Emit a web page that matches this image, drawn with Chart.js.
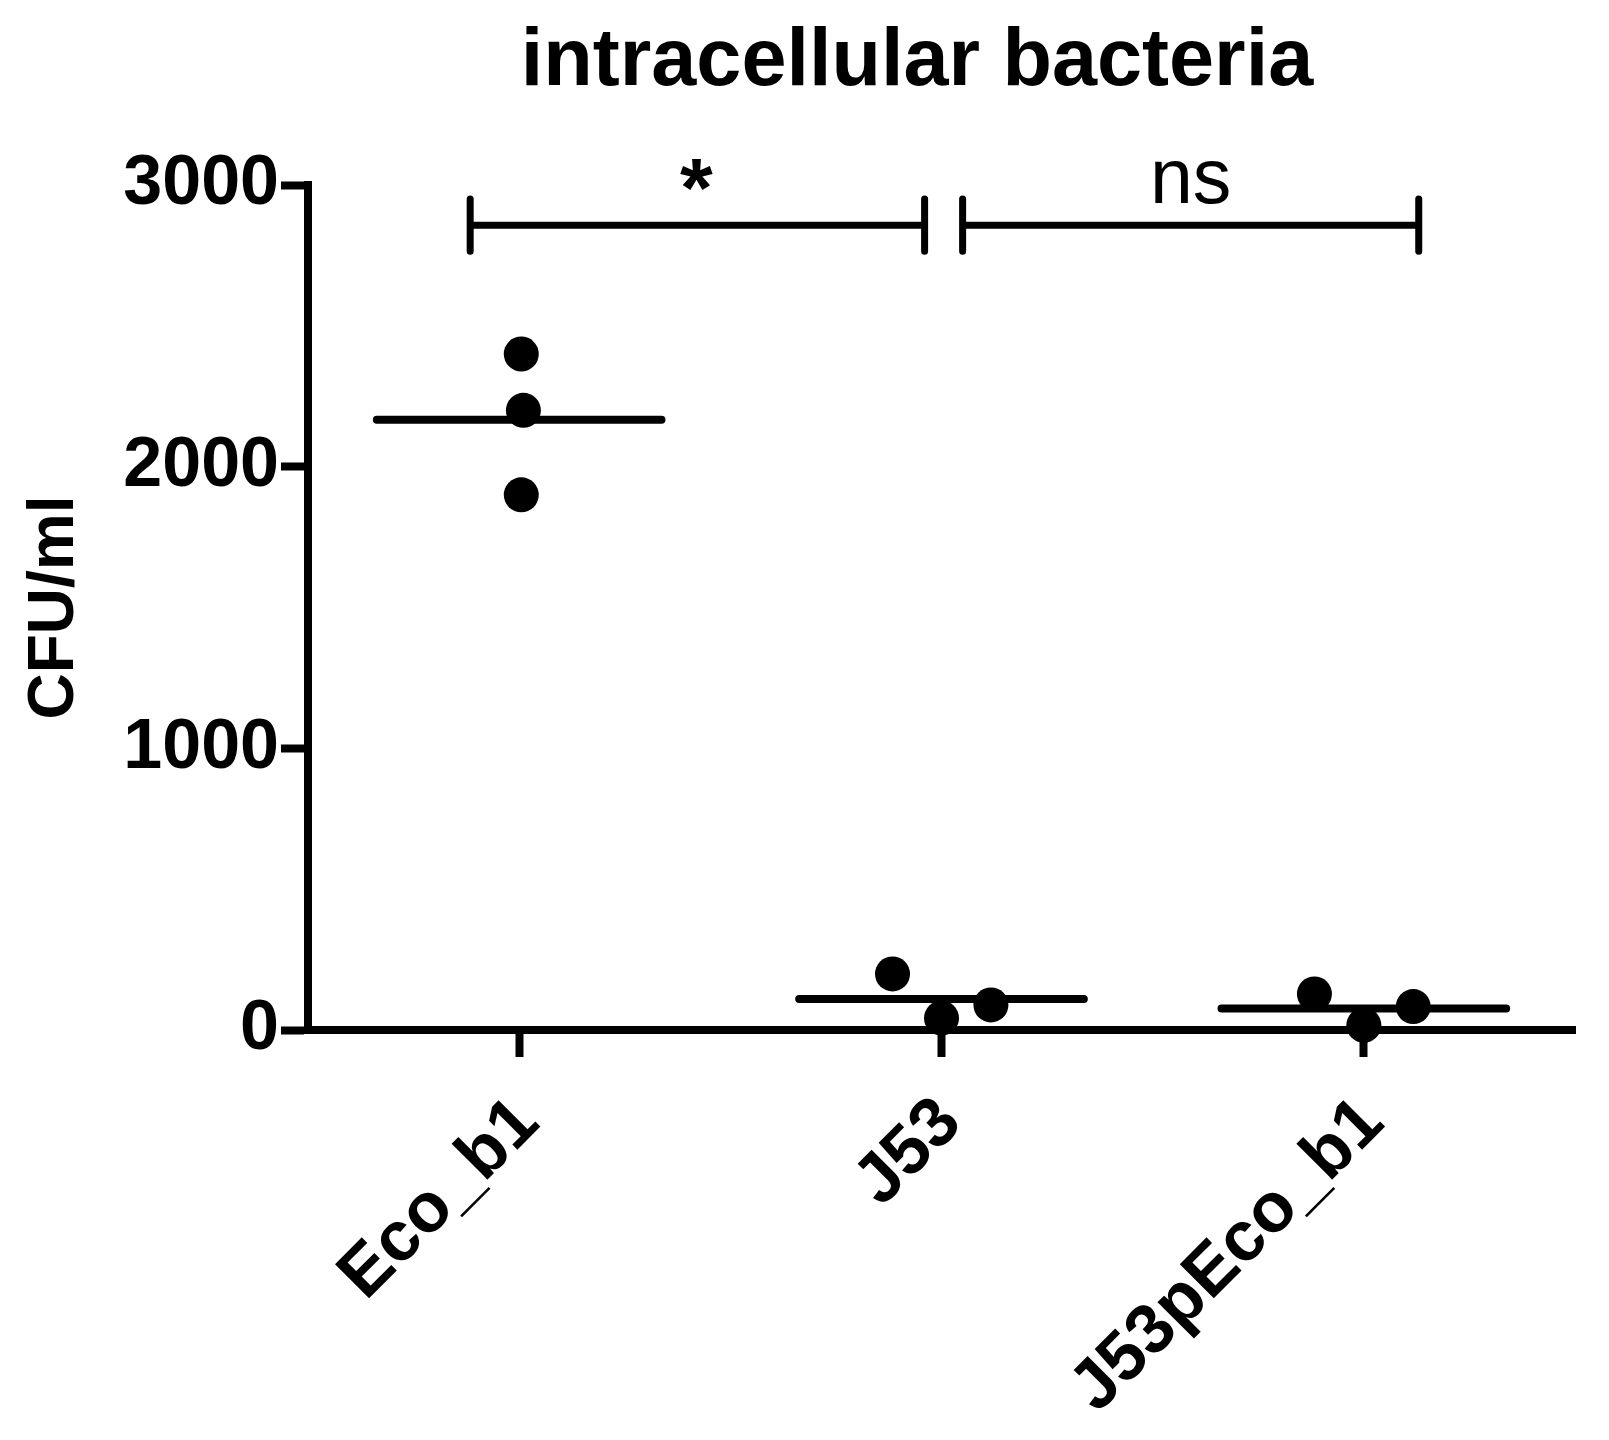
<!DOCTYPE html>
<html><head><meta charset="utf-8">
<script src="https://cdn.jsdelivr.net/npm/chart.js@4.4.0/dist/chart.umd.min.js"></script>
<style>html,body{margin:0;padding:0;background:#fff;} #wrap{width:1609px;height:1440px;}</style>
</head><body><div id="wrap"><canvas id="c" width="1609" height="1440"></canvas></div>
<script>
const chartTitle = 'intracellular bacteria';
const yAxisTitle = 'CFU/ml';
const categories = ['Eco_b1', 'J53', 'J53pEco_b1'];
const ecoValues = [2400, 2200, 1900];
const j53Values = [199, 42, 89];
const j53pValues = [128, 17, 83];
const ecoJitter = [0.005, 0.01, 0.005];
const j53Jitter = [-0.116, 0, 0.117];
const j53pJitter = [-0.117, 0, 0.117];
const meanValues = [2167, 110, 76];
const meanHalfWidth = 0.337;
const yTicks = [0, 1000, 2000, 3000];
const yTickLabels = ['0', '1000', '2000', '3000'];
const sigLabels = ['*', 'ns'];
const sigStart = [-0.116, 1.05];
const sigEnd = [0.96, 2.13];
const sigLevel = [2857, 2857];
const sigTickTop = [2950, 2950];
const sigTickBottom = [2765, 2765];
const sigLabelX = [0.42, 1.593];
const sigLabelY = [3035, 3009];

const FONT = '"Liberation Sans", Arial, sans-serif';
const groups = [ecoValues, j53Values, j53pValues];
const jitters = [ecoJitter, j53Jitter, j53pJitter];

const pointData = [];
groups.forEach((vals, gi) => vals.forEach((v, k) => pointData.push({x: gi + jitters[gi][k], y: v})));

const meanData = [];
meanValues.forEach((m, i) => {
  meanData.push({x: i - meanHalfWidth, y: m}, {x: i + meanHalfWidth, y: m}, {x: i + 0.5, y: null});
});

const sigData = [];
sigLabels.forEach((_, i) => {
  sigData.push({x: sigStart[i], y: sigTickTop[i]}, {x: sigStart[i], y: sigTickBottom[i]}, {x: sigStart[i], y: null});
  sigData.push({x: sigStart[i], y: sigLevel[i]}, {x: sigEnd[i], y: sigLevel[i]}, {x: sigEnd[i], y: null});
  sigData.push({x: sigEnd[i], y: sigTickTop[i]}, {x: sigEnd[i], y: sigTickBottom[i]}, {x: sigEnd[i], y: null});
});

function drawCentered(ctx, text, font, cx, cy) {
  ctx.font = font;
  ctx.textAlign = 'left';
  ctx.textBaseline = 'alphabetic';
  const m = ctx.measureText(text);
  const x0 = cx - (m.actualBoundingBoxRight - m.actualBoundingBoxLeft) / 2;
  const y0 = cy + (m.actualBoundingBoxAscent - m.actualBoundingBoxDescent) / 2;
  ctx.fillText(text, x0, y0);
}

const annot = {
  id: 'annot',
  afterDraw(chart) {
    const ctx = chart.ctx;
    const x = chart.scales.x, y = chart.scales.y;
    ctx.save();
    ctx.fillStyle = '#000';
    ctx.font = 'bold 81px ' + FONT;
    ctx.textAlign = 'center';
    ctx.textBaseline = 'alphabetic';
    ctx.fillText(chartTitle, 917, 85);
    sigLabels.forEach((t, i) => {
      const font = t === '*' ? 'bold 84px ' + FONT : '77px ' + FONT;
      drawCentered(ctx, t, font, x.getPixelForValue(sigLabelX[i]), y.getPixelForValue(sigLabelY[i]));
    });
    ctx.restore();
  }
};

new Chart(document.getElementById('c'), {
  type: 'scatter',
  data: {
    datasets: [
      {data: pointData, pointRadius: 17.5, pointHoverRadius: 17.5, backgroundColor: '#000', borderWidth: 0, clip: false},
      {data: meanData, showLine: true, spanGaps: false, borderColor: '#000', borderWidth: 8, borderCapStyle: 'round', pointRadius: 0, clip: false},
      {data: sigData, showLine: true, spanGaps: false, borderColor: '#000', borderWidth: 7, borderCapStyle: 'round', pointRadius: 0, clip: false}
    ]
  },
  options: {
    responsive: false,
    animation: false,
    layout: {padding: {left: 0, right: 34, top: 185, bottom: 0}},
    plugins: {legend: {display: false}, tooltip: {enabled: false}, title: {display: false}},
    scales: {
      x: {
        type: 'linear', min: -0.5, max: 2.5,
        afterBuildTicks: (s) => { s.ticks = categories.map((_, i) => ({value: i})); },
        afterFit: (s) => { s.height = 410; },
        ticks: {
          callback: (v) => categories[v] ?? '',
          font: {family: FONT, size: 70, weight: 'bold'}, color: '#000',
          minRotation: 45, maxRotation: 45, autoSkip: false, padding: 25, labelOffset: 9
        },
        grid: {drawOnChartArea: false, drawTicks: true, tickLength: 27, tickWidth: 8, tickColor: '#000', color: '#000'},
        border: {display: true, color: '#000', width: 8}
      },
      y: {
        type: 'linear', min: 0, max: 3000,
        afterBuildTicks: (s) => { s.ticks = yTicks.map(v => ({value: v})); },
        afterFit: (s) => { s.width = 308; },
        ticks: {
          callback: (v) => yTickLabels[yTicks.indexOf(v)] ?? '',
          font: {family: FONT, size: 70, weight: 'bold'}, color: '#000', padding: 2
        },
        grid: {drawOnChartArea: false, drawTicks: true, tickLength: 27, tickWidth: 8, tickColor: '#000', color: '#000'},
        border: {display: true, color: '#000', width: 8},
        title: {display: true, text: yAxisTitle, font: {family: FONT, size: 64, weight: 'bold'}, color: '#000', padding: {top: 17, bottom: 0}}
      }
    }
  },
  plugins: [annot]
});
</script></body></html>
